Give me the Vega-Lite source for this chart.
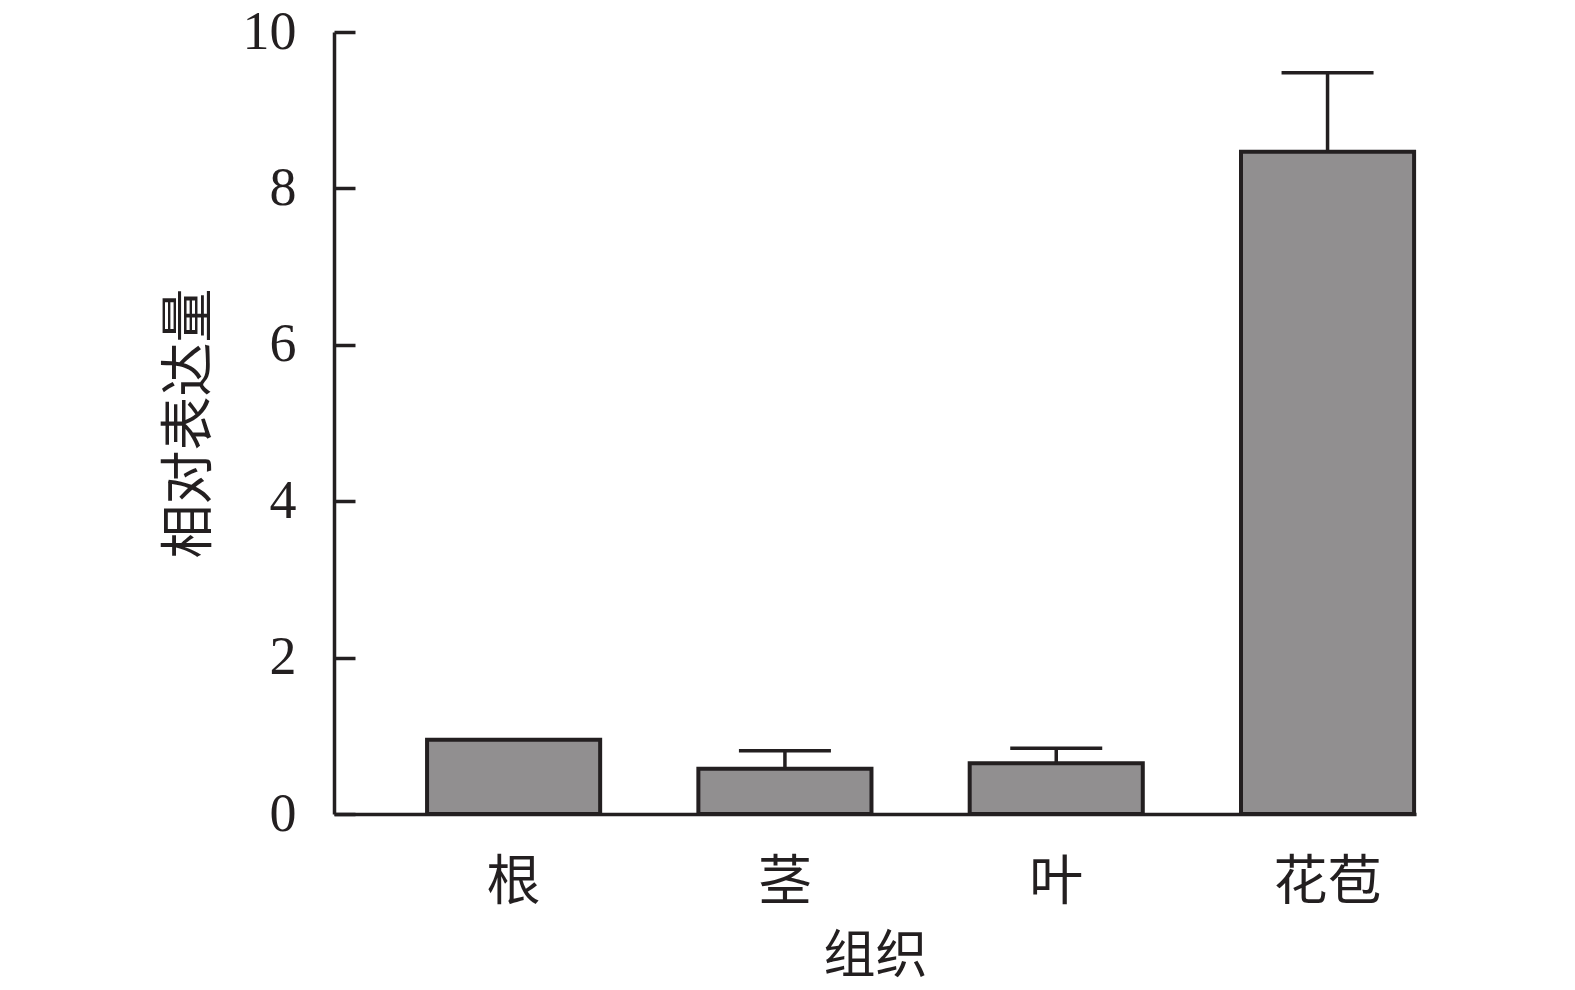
{
  "$schema": "https://vega.github.io/schema/vega-lite/v6.json",
  "autosize": {"type": "none"},
  "width": 1082,
  "height": 782,
  "padding": {"left": 334, "top": 32, "right": 159, "bottom": 176},
  "background": "white",
  "config": {
    "view": {"stroke": null},
    "axis": {"grid": false, "domainColor": "#231f20", "tickColor": "#231f20", "labelColor": "#231f20", "titleColor": "#231f20"}
  },
  "data": {
    "values": [
      {"tissue": "根", "value": 0.95, "upper": 0.95},
      {"tissue": "茎", "value": 0.58, "upper": 0.81},
      {"tissue": "叶", "value": 0.65, "upper": 0.84},
      {"tissue": "花苞", "value": 8.47, "upper": 9.48}
    ]
  },
  "encoding": {
    "x": {
      "field": "tissue",
      "type": "nominal",
      "sort": ["根", "茎", "叶", "花苞"],
      "scale": {"paddingInner": 0.362, "paddingOuter": 0.175, "align": 0.98},
      "axis": {
        "title": "组织",
        "labelAngle": 0,
        "labelFont": "Noto Sans CJK SC",
        "labelFontSize": 54,
        "labelFontWeight": "normal",
        "labelPadding": 42,
        "ticks": false,
        "domainWidth": 3.5,
        "titleFont": "Noto Sans CJK SC",
        "titleFontSize": 52,
        "titleFontWeight": "normal",
        "titlePadding": 21
      }
    }
  },
  "layer": [
    {
      "mark": {"type": "bar", "fill": "#918f90", "stroke": "#231f20", "strokeWidth": 4},
      "encoding": {
        "y": {
          "field": "value",
          "type": "quantitative",
          "scale": {"domain": [0, 10], "nice": false},
          "axis": {
            "title": "相对表达量",
            "values": [0, 2, 4, 6, 8, 10],
            "format": "d",
            "labelFont": "Times New Roman",
            "labelFontSize": 54,
            "labelPadding": 59,
            "tickSize": -21,
            "tickWidth": 3.5,
            "domainWidth": 3.5,
            "titleFont": "Noto Sans CJK SC",
            "titleFontSize": 54,
            "titleFontWeight": "normal",
            "titlePadding": 25
          }
        }
      }
    },
    {
      "transform": [{"filter": "datum.upper > datum.value"}],
      "mark": {"type": "rule", "color": "#231f20", "strokeWidth": 3.5},
      "encoding": {
        "y": {"field": "value", "type": "quantitative"},
        "y2": {"field": "upper"}
      }
    },
    {
      "transform": [{"filter": "datum.upper > datum.value"}],
      "mark": {"type": "tick", "color": "#231f20", "thickness": 3.5, "size": 92, "opacity": 1},
      "encoding": {
        "y": {"field": "upper", "type": "quantitative"}
      }
    }
  ]
}
